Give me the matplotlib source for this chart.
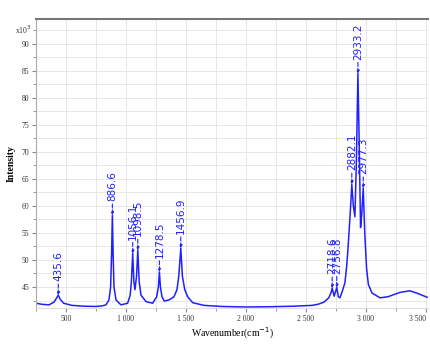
import matplotlib.pyplot as plt
import numpy as np
from matplotlib.ticker import MultipleLocator, FixedLocator

# spectrum (wavenumber, intensity x10^3)
wavenumber = [250, 300, 358, 400, 420, 435.6, 450, 480, 550, 650, 750, 800, 833, 858, 872, 880,
              886.6, 893, 900, 917, 958, 1014, 1035, 1045, 1056.1, 1066, 1075, 1088, 1098.5, 1110,
              1125, 1167, 1222, 1256, 1270, 1278.5, 1287, 1300, 1320, 1358, 1400, 1425, 1440,
              1456.9, 1470, 1490, 1514, 1556, 1650, 1800, 2000, 2200, 2400, 2550, 2600, 2650,
              2690, 2710, 2718.6, 2735, 2756.8, 2770, 2783, 2800, 2825, 2840, 2850, 2867, 2875,
              2882.1, 2895, 2908, 2920, 2933.2, 2945, 2955, 2965, 2977.3, 2990, 3005, 3020, 3050,
              3117, 3183, 3283, 3367, 3433, 3510]
intensity = [42.0, 41.8, 41.7, 42.2, 42.9, 43.5, 42.8, 42.0, 41.6, 41.45, 41.4, 41.5, 41.7, 42.6,
             45.0, 51.0, 58.3, 51.0, 45.0, 42.6, 41.7, 42.0, 43.5, 46.0, 51.2, 46.0, 44.5, 47.0,
             51.8, 46.0, 43.5, 42.3, 42.0, 43.2, 45.0, 47.8, 45.0, 43.2, 42.4, 42.6, 43.2, 44.5,
             47.0, 52.2, 47.0, 44.5, 43.2, 42.1, 41.6, 41.4, 41.3, 41.35, 41.45, 41.6, 41.8, 42.2,
             43.0, 44.0, 44.8, 43.3, 44.9, 43.2, 43.0, 44.0, 45.8, 49.0, 52.0, 58.0, 61.0,
             64.0, 60.0, 58.0, 68.0, 84.5, 70.0, 56.0, 58.5, 63.3, 55.0, 48.5, 45.5, 43.9,
             43.0, 43.2, 44.0, 44.3, 43.8, 43.1]

peak_pos = [435.6, 886.6, 1056.1, 1098.5, 1278.5, 1456.9, 2718.6, 2756.8, 2882.1, 2933.2, 2977.3]
peak_val = [43.5, 58.3, 51.2, 51.8, 47.8, 52.2, 44.8, 44.9, 64.0, 84.5, 63.3]

xtick_vals = [500, 1000, 1500, 2000, 2500, 3000, 3500]
xtick_text = ['500', '1 000', '1 500', '2 000', '2 500', '3 000', '3 500']
ytick_vals = [45, 50, 55, 60, 65, 70, 75, 80, 85, 90]

blue = '#2020ff'

fig = plt.figure(figsize=(4.31, 3.57), dpi=100)
ax = fig.add_axes([0.0835, 0.137, 0.9095, 0.81])

ax.plot(wavenumber, intensity, color=blue, lw=1.1)

for x, y in zip(peak_pos, peak_val):
    ax.annotate('%.1f' % x, xy=(x, y), xytext=(0, 10), textcoords='offset points',
                rotation=90, ha='center', va='bottom', color=blue, fontsize=7.5,
                arrowprops=dict(arrowstyle='-|>', color=blue, lw=0.8, ls='--',
                                mutation_scale=4, shrinkA=0, shrinkB=0))

ax.set_xlim(250, 3517)
ax.set_ylim(41.1, 94.6)

ax.xaxis.set_major_locator(FixedLocator(xtick_vals))
ax.set_xticklabels(xtick_text)
ax.xaxis.set_minor_locator(MultipleLocator(250))
ax.yaxis.set_major_locator(FixedLocator(ytick_vals))
ax.yaxis.set_minor_locator(MultipleLocator(2.5))

ax.grid(True, which='both', color='#e8e8e8', lw=0.7)
ax.set_axisbelow(True)

ax.tick_params(axis='both', which='major', labelsize=5.5, length=3, color='#888888',
               labelcolor='#333333', pad=2)
ax.tick_params(axis='both', which='minor', length=2, color='#888888')
for lab in ax.get_xticklabels() + ax.get_yticklabels():
    lab.set_family('Liberation Serif')
# keep the last tick label inside the figure
ax.get_xticklabels()[-1].set_ha('right')

ax.spines['right'].set_visible(False)
ax.spines['top'].set_color('#777777')
ax.spines['top'].set_linewidth(1.5)
ax.spines['left'].set_color('#aaaaaa')
ax.spines['bottom'].set_color('#dddddd')

ax.text(-0.012, 92.5, r'x10$^3$', transform=ax.get_yaxis_transform(), ha='right', va='center',
        fontsize=5.5, family='Liberation Serif', color='#333333')

ax.set_xlabel('Wavenumber(cm$^{-1}$)', fontsize=7, family='Liberation Serif', labelpad=2)
ax.set_ylabel('Intensity', fontsize=7, family='Liberation Serif', fontweight='bold', labelpad=4)

fig.savefig('out.png', dpi=100)
